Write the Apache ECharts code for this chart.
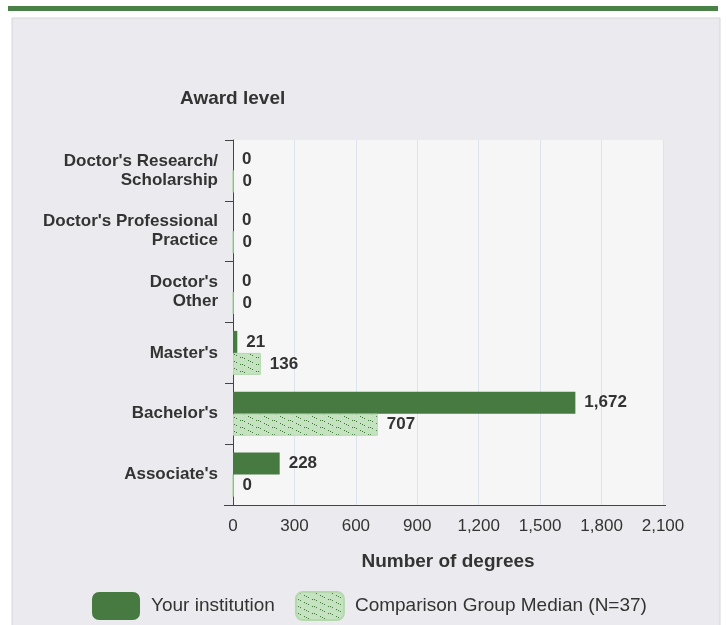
<!DOCTYPE html>
<html>
<head>
<meta charset="utf-8">
<script src="https://cdn.jsdelivr.net/npm/echarts@6/dist/echarts.min.js"></script>
<style>
html,body{margin:0;padding:0;background:#fff;}
#main{width:726px;height:625px;}
</style>
</head>
<body>
<div id="main"></div>
<script>
var categories = ["Doctor's Research/\nScholarship", "Doctor's Professional\nPractice", "Doctor's\nOther", "Master's", "Bachelor's", "Associate's"];
var institution = [0, 0, 0, 21, 1672, 228];
var median = [0, 0, 0, 136, 707, 0];
var xTicks = [0, 300, 600, 900, 1200, 1500, 1800, 2100];

// hatched fill for the comparison group
function hatch() {
    var c = document.createElement('canvas');
    c.width = 16; c.height = 7;
    var ctx = c.getContext('2d');
    ctx.fillStyle = '#c6e3c1';
    ctx.fillRect(0, 0, 16, 7);
    ctx.fillStyle = '#3a7534';
    for (var x = 0; x < 16; x += 2) {
        if (x % 8 == 6) continue;
        ctx.fillRect(x, Math.floor(x * 7 / 16), 1, 1);
    }
    return c;
}

var fmt = function (p) { return p.value.toLocaleString('en-US'); };
var lbl = {show: true, position: 'right', distance: 9, color: '#333', fontWeight: 'bold', fontSize: 17, fontFamily: 'Liberation Sans', formatter: fmt};

var chart = echarts.init(document.getElementById('main'));
chart.setOption({
    animation: false,
    textStyle: {fontFamily: 'Liberation Sans'},
    graphic: [
        {type: 'rect', shape: {x: 8, y: 6, width: 710, height: 5}, style: {fill: '#4a8146'}, z: -10},
        {type: 'rect', shape: {x: 12, y: 18, width: 708, height: 620}, style: {fill: '#ebebef', stroke: '#d6d6da', lineWidth: 1}, z: -10},
        {type: 'line', shape: {x1: 224, y1: 505.5, x2: 666, y2: 505.5}, style: {stroke: '#444', lineWidth: 1}, z: 10}
    ],
    title: {
        text: 'Award level', left: 175, top: 84,
        textStyle: {fontSize: 19, fontWeight: 'bold', color: '#333', fontFamily: 'Liberation Sans'}
    },
    legend: {
        left: 87, top: 586, itemWidth: 48, itemHeight: 28, itemGap: 20,
        icon: 'roundRect',
        textStyle: {fontSize: 19, color: '#333', fontFamily: 'Liberation Sans', padding: [0, 0, 0, 6]},
        data: ['Your institution', 'Comparison Group Median (N=37)']
    },
    grid: {left: 233, right: 63, top: 140, bottom: 120, show: true, backgroundColor: '#f6f6f6', borderWidth: 0},
    xAxis: {
        type: 'value', min: 0, max: 2100, interval: 300,
        name: 'Number of degrees', nameLocation: 'middle', nameGap: 47,
        nameTextStyle: {fontSize: 19, fontWeight: 'bold', color: '#333'},
        axisLine: {show: true, lineStyle: {color: '#444'}},
        axisTick: {show: false},
        axisLabel: {color: '#333', fontSize: 17, margin: 13, formatter: function (v) { return v.toLocaleString('en-US'); }},
        splitLine: {show: true, lineStyle: {color: '#dde3ec'}}
    },
    yAxis: {
        type: 'category', data: categories, inverse: true,
        axisLine: {show: true, lineStyle: {color: '#444'}},
        axisTick: {show: true, length: 8, lineStyle: {color: '#444'}},
        axisLabel: {color: '#333', fontSize: 17, fontWeight: 'bold', margin: 15, align: 'right', lineHeight: 19}
    },
    series: [
        {name: 'Your institution', type: 'bar', data: institution, barWidth: 22, barGap: '0%',
            itemStyle: {color: '#467a41'}, label: lbl},
        {name: 'Comparison Group Median (N=37)', type: 'bar', data: median, barWidth: 22, barGap: '0%',
            itemStyle: {color: {image: hatch(), repeat: 'repeat'}, borderColor: '#b3d9ad', borderWidth: 1}, label: lbl}
    ]
});
</script>
</body>
</html>
